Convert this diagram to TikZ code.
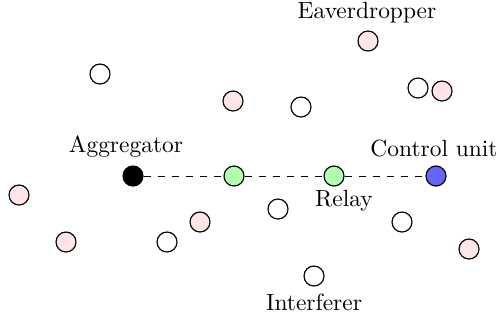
\documentclass[tikz,border=0pt]{standalone}
\begin{document}
\begin{tikzpicture}[x=0.015cm,y=-0.015cm,
  dev/.style={circle,draw,line width=0.5pt,minimum size=0.3cm,inner sep=0pt},
  other/.style={dev,fill=white},
  eve/.style={dev,fill=red!10},
  relay/.style={dev,fill=green!30},
  agg/.style={dev,fill=black},
  ctrl/.style={dev,fill=blue!60},
  lbl/.style={inner sep=0pt,font=\normalsize}]
\useasboundingbox (0,0) rectangle (500,320);
% scattered devices
\node[other] (w1) at (100,74) {};
\node[eve]   (p1) at (233,101) {};
\node[other] (w2) at (301,107) {};
\node[eve]   (e)  at (368,41) {};
\node[other] (w3) at (418,88) {};
\node[eve]   (p2) at (442,91) {};
\node[eve]   (p3) at (19,195) {};
\node[eve]   (p4) at (66,242) {};
\node[other] (w4) at (167,242) {};
\node[eve]   (p5) at (200,222) {};
\node[other] (w5) at (278,209) {};
\node[other] (w6) at (402,222) {};
\node[eve]   (p6) at (469,249) {};
\node[other] (i)  at (314,276) {};
% relay chain
\node[agg]   (a)  at (133,176) {};
\node[relay] (r1) at (234,176) {};
\node[relay] (r2) at (334,176) {};
\node[ctrl]  (c)  at (436,176) {};
\draw[dashed] (a) -- (r1) -- (r2) -- (c);
% labels
\node[lbl] (la) at (126,147) {Aggregator};
\node[lbl] (le) at (367,13) {Eaverdropper};
\node[lbl] (lc) at (434,148) {Control unit};
\node[lbl] (lr) at (344,201) {Relay};
\node[lbl] (li) at (314,302) {Interferer};
\end{tikzpicture}
\end{document}
